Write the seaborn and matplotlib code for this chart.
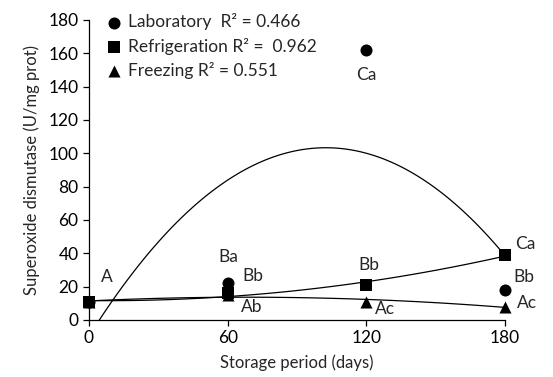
import matplotlib
matplotlib.use('Agg')
import matplotlib.pyplot as plt
import seaborn as sns

# 데이터
days = [0, 60, 120, 180]
laboratory = [11, 22, 162, 18]
refrigeration = [11, 16, 21, 39]
freezing = [11, 15, 11, 8]

series_names = ['Laboratory  R\u00b2 = 0.466', 'Refrigeration R\u00b2 =  0.962', 'Freezing R\u00b2 = 0.551']
series_markers = ['o', 's', '^']

# 유의성 문자 (x, y, 문자)
letter_x = [7.7, 60.2, 71, 70.4, 120, 121, 128, 188.7, 188, 189.6]
letter_y = [26, 38, 26.4, 8, 147, 33, 6.4, 45.6, 26, 10]
letter_text = ['A', 'Ba', 'Bb', 'Ab', 'Ca', 'Bb', 'Ac', 'Ca', 'Bb', 'Ac']

sns.set_style('ticks')
plt.rcParams['font.family'] = ['Lato', 'DejaVu Sans']

fig = plt.figure(figsize=(5.53, 3.77), dpi=100)
ax = fig.add_axes([89 / 553, 1 - 320 / 377, (505 - 89) / 553, 300 / 377])

for vals, name, mk in zip([laboratory, refrigeration, freezing], series_names, series_markers):
    # 2차 회귀 곡선
    sns.regplot(x=days, y=vals, order=2, ci=None, scatter=False, ax=ax,
                line_kws={'color': 'black', 'linewidth': 0.9})
    sns.scatterplot(x=days, y=vals, marker=mk, color='black', s=75,
                    edgecolor='black', linewidth=0, ax=ax, label=name,
                    clip_on=False, zorder=5)

for tx, ty, t in zip(letter_x, letter_y, letter_text):
    ax.text(tx, ty, t, fontsize=12.5, ha='center', va='center')

ax.set_xlim(0, 180)
ax.set_ylim(0, 180)
ax.set_xticks(days)
ax.set_yticks(range(0, 181, 20))
ax.tick_params(labelsize=12.5, length=4.5, width=0.9, colors='black', pad=3)
for s in ['left', 'bottom']:
    ax.spines[s].set_linewidth(0.9)
    ax.spines[s].set_color('black')
sns.despine(ax=ax)

ax.set_xlabel('Storage period (days)', fontsize=12, labelpad=6)
ax.set_ylabel('Superoxide dismutase (U/mg prot)', fontsize=12, labelpad=6)

leg = ax.legend(loc='upper left', frameon=False, fontsize=12.5, handletextpad=0.05,
                handlelength=1.5, borderaxespad=0.0, labelspacing=0.42,
                bbox_to_anchor=(0.012, 1.045))

fig.savefig('out.png', dpi=100)
